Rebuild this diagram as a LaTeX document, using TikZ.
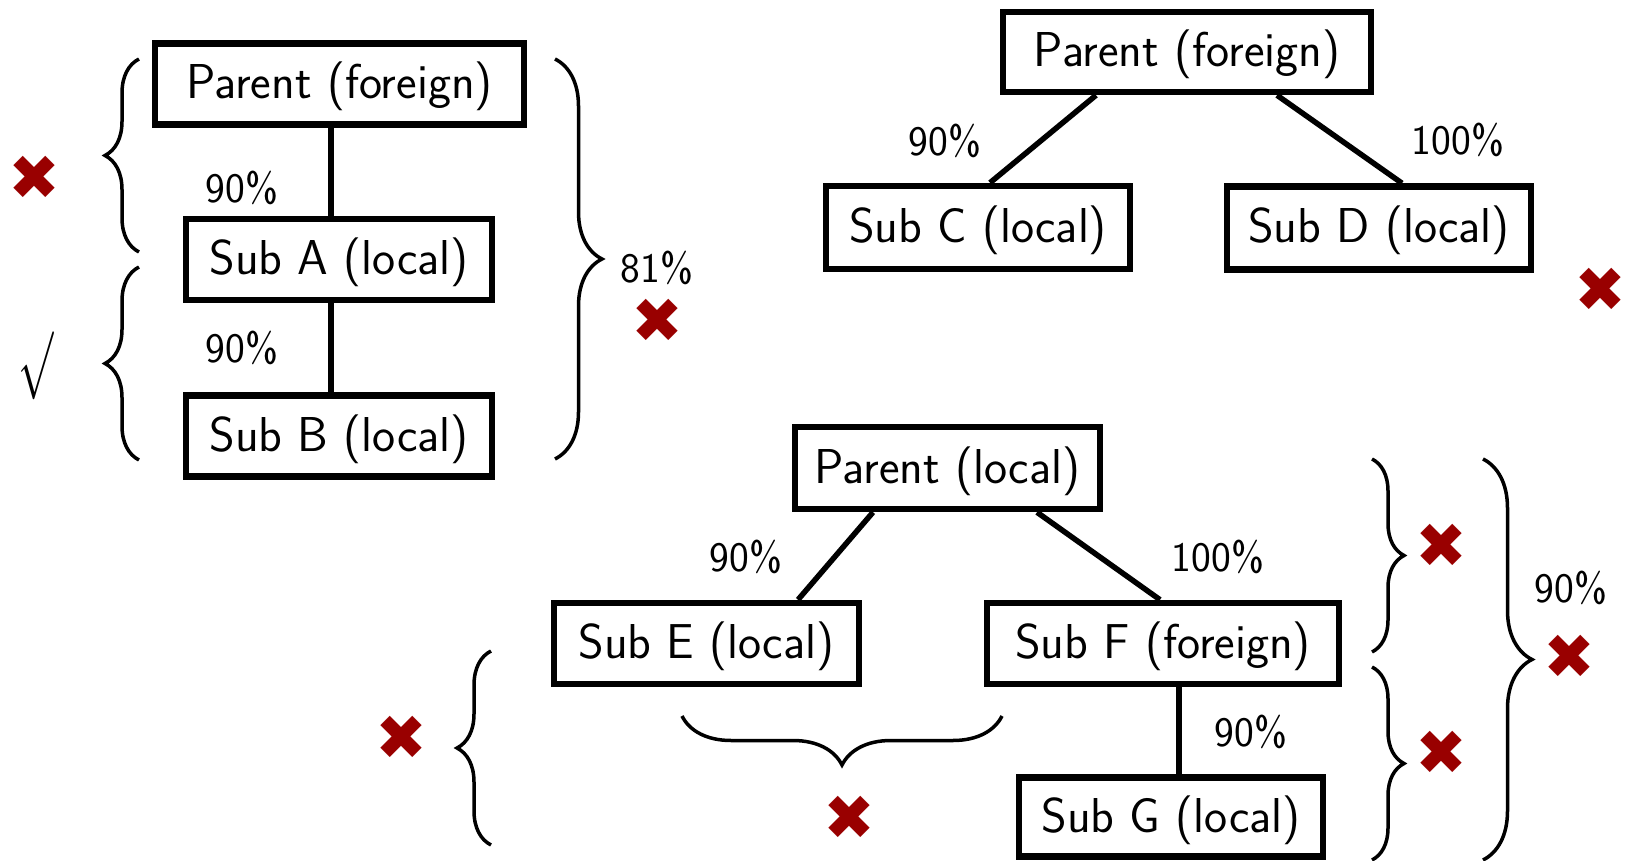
\RequirePackage{fix-cm}
\documentclass[tikz,border=0pt]{standalone}
\usepackage{fontspec}
\usepackage{graphicx}
\newfontfamily\symfont{DejaVu Sans}
\usetikzlibrary{decorations.pathreplacing}
\definecolor{crossred}{RGB}{153,0,0}
\tikzset{
  entity/.style={draw, line width=6.5pt, inner sep=0pt, minimum height=81pt,
    text height=40pt, text depth=10pt,
    font=\sffamily\fontsize{49}{54}\selectfont},
  link/.style={line width=5.5pt},
  pct/.style={inner sep=0pt, font=\sffamily\fontsize{42}{46}\selectfont},
  nogo/.style={inner sep=0pt, text=crossred, font=\symfont\fontsize{62}{62}\selectfont},
  curly/.style={decorate, line width=3.5pt, decoration={brace, amplitude=#1}},
}
\begin{document}
\begin{tikzpicture}[x=1pt, y=-1pt]
\useasboundingbox (0,0) rectangle (1628,861);

% --- foreign parent with a chain of two local subsidiaries
\node[entity, minimum width=369pt] (pA) at (339.5,84) {Parent (foreign)};
\node[entity, minimum width=306pt] (sA) at (339,259.5) {Sub A (local)};
\node[entity, minimum width=306pt] (sB) at (339,436) {Sub B (local)};
\draw[link] ([xshift=-8.5pt]pA.south) -- ([xshift=-8pt]sA.north);
\draw[link] ([xshift=-8pt]sA.south) -- ([xshift=-8pt]sB.north);
\node[pct] (lA) at (242,188) {90\%};
\node[pct] (lB) at (242,348) {90\%};

\draw[curly=34pt] (139,252) -- (139,59);
\draw[curly=34pt] (139,460) -- (139,267);
\draw[curly=47pt] (555,59) -- (555,459);
\node[nogo] (xA) at (34,178) {✖};
\node[inner sep=0pt, font=\fontsize{68}{68}\selectfont] (okB) at (36,366) {\scalebox{0.62}[1]{$\surd$}};
\node[pct] (lAB) at (657,268) {81\%};
\node[nogo] (xAB) at (657,321) {✖};

% --- foreign parent with two local subsidiaries side by side
\node[entity, minimum width=368pt, minimum height=80pt] (pC) at (1187,52) {Parent (foreign)};
\node[entity, minimum width=304pt, minimum height=83pt] (sC) at (978,227.5) {Sub C (local)};
\node[entity, minimum width=304pt, minimum height=83pt] (sD) at (1379,228) {Sub D (local)};
\draw[link] ([xshift=-91pt]pC.south) -- ([xshift=12pt]sC.north);
\draw[link] ([xshift=90pt]pC.south) -- ([xshift=23pt]sD.north);
\node[pct] (lC) at (945,141) {90\%};
\node[pct] (lD) at (1458,140) {100\%};
\node[nogo] (xCD) at (1600,290) {✖};

% --- local parent, local and foreign subsidiaries
\node[entity, minimum width=305pt, minimum height=82pt] (pE) at (947.5,468) {Parent (local)};
\node[entity, minimum width=305pt] (sE) at (706.5,643.5) {Sub E (local)};
\node[entity, minimum width=352pt] (sF) at (1163,643.5) {Sub F (foreign)};
\node[entity, minimum width=304pt, minimum height=79pt] (sG) at (1171,817) {Sub G (local)};
\draw[link] ([xshift=-74.5pt]pE.south) -- ([xshift=91.5pt]sE.north);
\draw[link] ([xshift=89.5pt]pE.south) -- ([xshift=-3pt]sF.north);
\draw[link] ([xshift=16pt]sF.south) -- ([xshift=8pt]sG.north);
\node[pct] (lE) at (746,557) {90\%};
\node[pct] (lF) at (1218,557) {100\%};
\node[pct] (lG) at (1251,732) {90\%};

\draw[curly=34pt] (491,845) -- (491,651);
\draw[curly=49pt] (1002,716) -- (682,716);
\draw[curly=32pt] (1372,459) -- (1372,652);
\draw[curly=32pt] (1372,667) -- (1372,860);
\draw[curly=49pt] (1483,459) -- (1483,860);
\node[nogo] (xE) at (401,738) {✖};
\node[nogo] (xEF) at (849,818) {✖};
\node[nogo] (xF) at (1441,546) {✖};
\node[nogo] (xG) at (1441,753) {✖};
\node[pct] (lFG) at (1571,588) {90\%};
\node[nogo] (xFG) at (1569,657) {✖};
\end{tikzpicture}
\end{document}
